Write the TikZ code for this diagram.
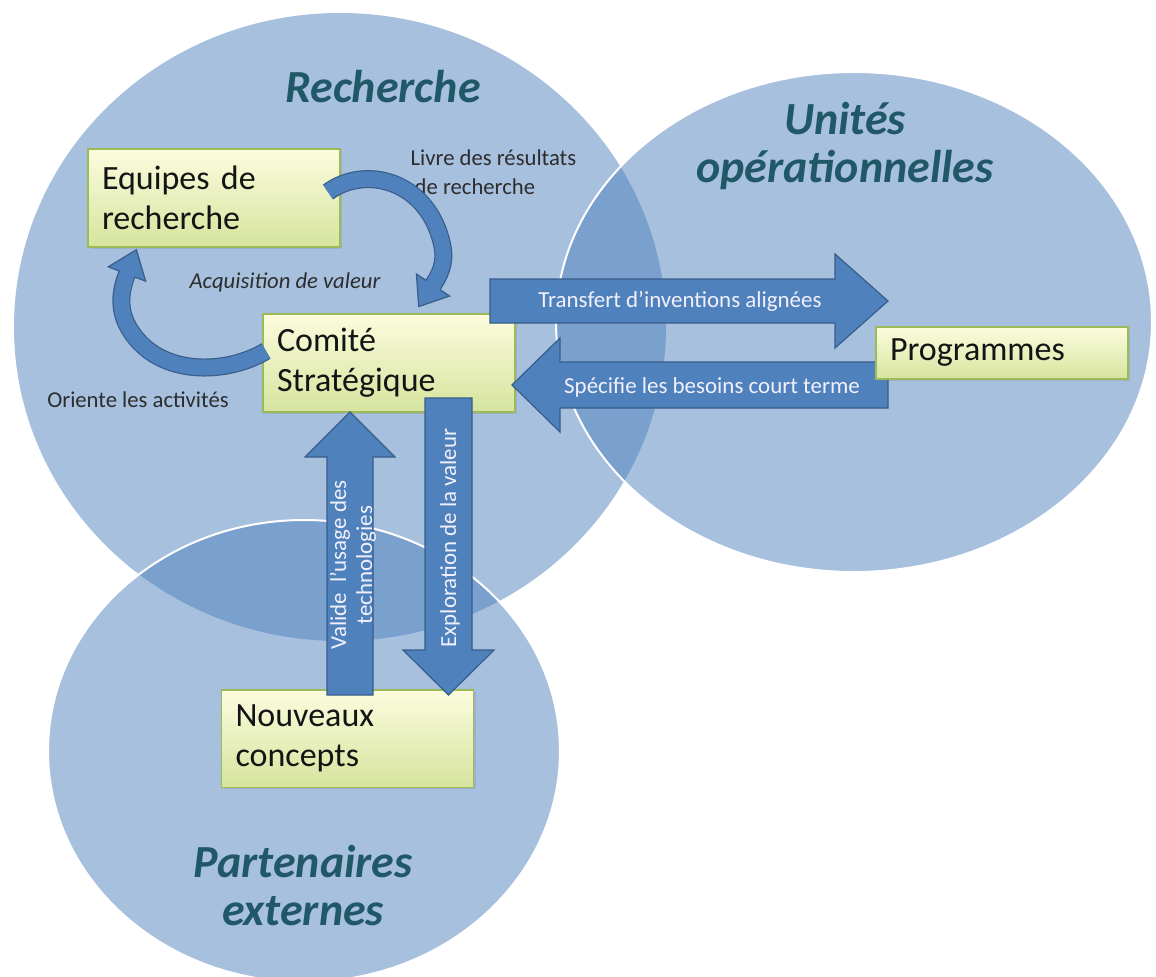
\documentclass[tikz,border=0pt]{standalone}
\usepackage{fontspec}
\setmainfont{Carlito}
\usetikzlibrary{shadows,calc}
\definecolor{circ}{RGB}{79,129,189}
\definecolor{arrowfill}{RGB}{79,129,189}
\definecolor{arrowline}{RGB}{56,93,138}
\definecolor{boxline}{RGB}{155,187,89}
\definecolor{boxtop}{RGB}{252,252,222}
\definecolor{boxbot}{RGB}{214,228,158}
\definecolor{titlecol}{RGB}{33,88,104}
\definecolor{labelcol}{RGB}{45,45,45}
\definecolor{arrowtext}{RGB}{242,240,250}
\begin{document}
\begin{tikzpicture}[x=0.75pt,y=-0.75pt,
  zone/.style={fill=circ, fill opacity=0.5, draw=white, draw opacity=1, line width=1.5pt},
  box/.style={draw=boxline, line width=1pt, top color=boxtop, bottom color=boxbot,
    inner xsep=10.5pt, inner ysep=0pt, text width=168pt, align=left,
    font=\fontsize{25.5}{30}\selectfont, text=black!92,
    drop shadow={opacity=0.22, shadow xshift=1.5pt, shadow yshift=-1.5pt}},
  title/.style={font=\fontsize{34.5}{36}\selectfont\bfseries\itshape, text=titlecol, align=center},
  lbl/.style={font=\fontsize{17}{21.75}\selectfont, text=labelcol, align=left},
  flow/.style={fill=arrowfill, draw=arrowline, line width=0.9pt, line join=miter},
  flowtext/.style={font=\fontsize{17.2}{19.5}\selectfont, text=arrowtext, align=center},
  bendout/.style={draw=arrowline, line width=13.5pt},
  bendin/.style={draw=arrowfill, line width=11.7pt},
]
\useasboundingbox (0,0) rectangle (1156,976);

% zones
\fill[circ, fill opacity=0.5] (340,327) ellipse [x radius=326, y radius=314];
\path[zone] (854,322) ellipse [x radius=298, y radius=250];
\path[zone] (304,751) ellipse [x radius=256, y radius=231];

% titles
\node[title] (tR) at (383,87) {Recherche};
\node[title] (tU) at (845,146) {Unités\\opérationnelles};
\node[title] (tP) at (303,886) {Partenaires\\externes};

% labels
\node[lbl, anchor=west] (lLivre) at (406,172) {Livre des résultats\\\hspace*{3pt}de recherche};
\node[lbl, font=\fontsize{17}{21}\selectfont\itshape] (lAcq) at (285,282) {Acquisition de valeur};
\node[lbl] (lOri) at (138,400) {Oriente les activités};

% boxes
\node[box, minimum height=73.5pt] (eq) at (214,198) {Equipes de\\recherche};
\node[box, minimum height=73.5pt] (cs) at (389,363) {Comité\\Stratégique};
\node[box, minimum height=73pt] (nc) at (347.5,738.5) {Nouveaux\\concepts};

% straight block arrows
\filldraw[flow] (490,279) -- (835,279) -- (835,254) -- (888,301) -- (835,348) -- (835,323) -- (490,323) -- cycle;
\filldraw[flow] (888,362) -- (560,362) -- (560,338) -- (512,385) -- (560,432) -- (560,408) -- (888,408) -- cycle;
\filldraw[flow] (327,695) -- (327,457) -- (305,457) -- (350,412) -- (395,457) -- (373,457) -- (373,695) -- cycle;
\filldraw[flow] (425,398) -- (425,650) -- (403,650) -- (448.5,695) -- (494,650) -- (472,650) -- (472,398) -- cycle;

\node[box, minimum height=39pt] (pg) at (1002,353) {Programmes};

% curved arrows
\coordinate (t1) at (328,192);
\coordinate (m1) at (433,285);
\draw[bendout] (t1) .. controls (365,165) and (425,180) .. (441,240) .. controls (446,258) and (443,270) .. (m1);
\filldraw[flow] (449.6,296) -- (418.7,306.6) -- (416.4,274) -- cycle;
\draw[bendin] (t1) .. controls (365,165) and (425,180) .. (441,240) .. controls (446,258) and (443,270) .. ($(m1)+(-1.1,1.7)$);

\coordinate (t2) at (266,351);
\coordinate (m2) at (127,274);
\draw[bendout] (t2) .. controls (228,374) and (160,378) .. (130,330) .. controls (118,311) and (120,292) .. (m2);
\filldraw[flow] (145.7,281.2) -- (136.4,249.7) -- (108.3,266.8) -- cycle;
\draw[bendin] (t2) .. controls (228,374) and (160,378) .. (130,330) .. controls (118,311) and (120,292) .. ($(m2)+(0.7,-1.8)$);

% arrow texts
\node[flowtext] (xTr) at (680,301) {Transfert d’inventions alignées};
\node[flowtext] (xSp) at (712,387) {Spécifie les besoins court terme};
\node[flowtext, rotate=90] (xVa) at (353,565) {Valide\ \ l’usage des\\technologies};
\node[flowtext, rotate=90] (xEx) at (450,538) {Exploration de la valeur};
\end{tikzpicture}
\end{document}
